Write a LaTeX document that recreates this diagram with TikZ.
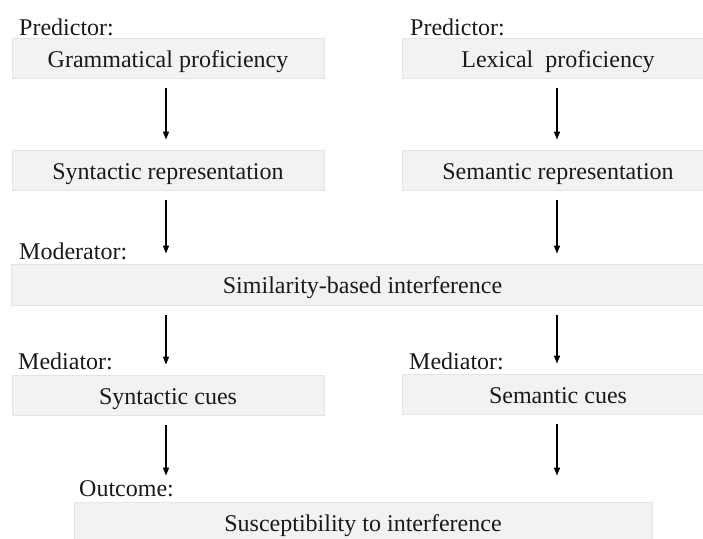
\documentclass[tikz,border=0pt]{standalone}
\usepackage{fontspec}
\setmainfont{Liberation Serif}
\usetikzlibrary{arrows.meta}
\definecolor{boxfill}{HTML}{F2F2F2}
\definecolor{boxline}{HTML}{E4E4E4}
\definecolor{txt}{HTML}{1A1A1A}
\begin{document}
\begin{tikzpicture}[x=1pt,y=-1pt,
  every node/.style={font=\fontsize{24}{28}\selectfont, text=txt},
  varbox/.style={draw=boxline, line width=0.8pt, fill=boxfill, inner sep=0pt,
    minimum height=40pt, text height=18pt, text depth=0pt},
  lbl/.style={anchor=base west, inner sep=0pt},
  arr/.style={-{Triangle[length=8pt,width=6pt]}, line width=1.4pt, black,
    shorten <=10pt, shorten >=10pt}]
\clip (0,0) rectangle (703,538);
\fill[white] (0,0) rectangle (703,538);
% boxes
\node[varbox, minimum width=312pt] (gp) at (168,58) {Grammatical proficiency};
\node[varbox, minimum width=312pt] (lp) at (558,58) {Lexical\ \ proficiency};
\node[varbox, minimum width=312pt] (sr) at (168,170) {Syntactic representation};
\node[varbox, minimum width=312pt] (smr) at (558,170) {Semantic representation};
\node[varbox, minimum width=703pt, minimum height=41pt] (sim) at (362.5,284.5) {Similarity-based interference};
\node[varbox, minimum width=312pt] (sc) at (168,395) {Syntactic cues};
\node[varbox, minimum width=312pt] (smc) at (558,394) {Semantic cues};
\node[varbox, minimum width=578pt] (out) at (363,522) {Susceptibility to interference};
% labels
\node[lbl] (l1) at (19,35) {Predictor:};
\node[lbl] (l2) at (410,35) {Predictor:};
\node[lbl] (l3) at (19,259) {Moderator:};
\node[lbl] (l4) at (18,369) {Mediator:};
\node[lbl] (l5) at (409,369) {Mediator:};
\node[lbl] (l6) at (79,496) {Outcome:};
% arrows
\draw[arr] ([xshift=-2pt]gp.south) -- ([xshift=-2pt]sr.north);
\draw[arr] ([xshift=-1pt]lp.south) -- ([xshift=-1pt]smr.north);
\draw[arr] ([xshift=-2pt]sr.south) -- ([xshift=-2pt]sr.south |- sim.north);
\draw[arr] ([xshift=-1pt]smr.south) -- ([xshift=-1pt]smr.south |- sim.north);
\draw[arr] ([xshift=-2pt]sc.north |- sim.south) -- ([xshift=-2pt]sc.north);
\draw[arr] ([xshift=-1pt]smc.north |- sim.south) -- ([xshift=-1pt]smc.north);
\draw[arr, shorten >=26pt] ([xshift=-2pt]sc.south) -- ([xshift=-2pt]sc.south |- out.north);
\draw[arr, shorten >=26pt] ([xshift=-1pt]smc.south) -- ([xshift=-1pt]smc.south |- out.north);
\end{tikzpicture}
\end{document}
